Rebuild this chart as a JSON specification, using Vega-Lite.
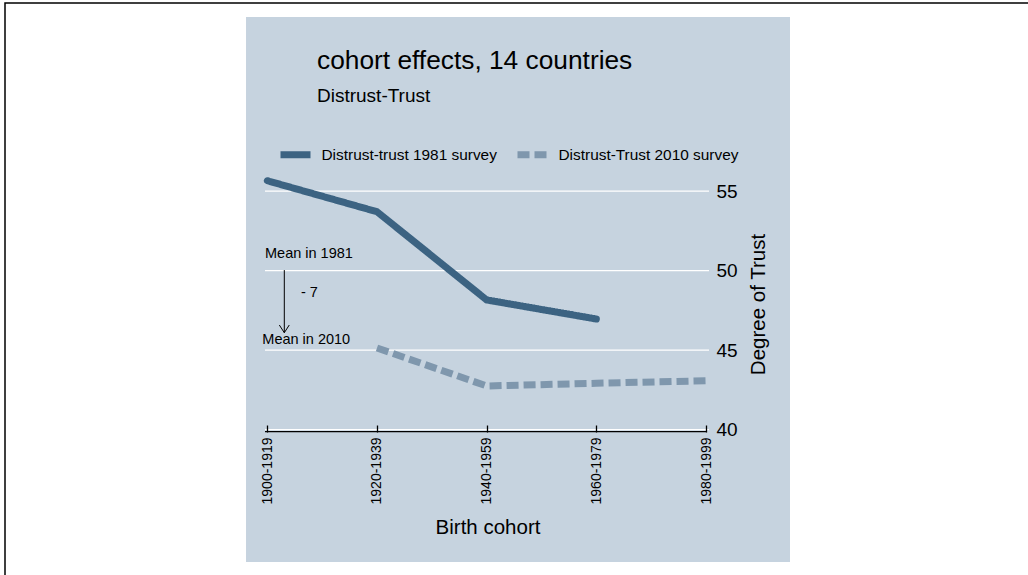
{
  "$schema": "https://vega.github.io/schema/vega-lite/v6.json",
  "width": 1043,
  "height": 592,
  "autosize": {"type": "none"},
  "padding": {"left": 5, "top": 3, "right": -20, "bottom": -20},
  "background": "white",
  "config": {
    "font": "Liberation Sans",
    "view": {"stroke": "black", "strokeWidth": 1.5, "fill": "white"}
  },
  "title": {
    "text": "cohort effects, 14 countries",
    "subtitle": "Distrust-Trust",
    "anchor": "start",
    "frame": "group",
    "dx": 312,
    "offset": -103,
    "fontSize": 26.3,
    "fontWeight": "normal",
    "color": "black",
    "subtitleFontSize": 19,
    "subtitleColor": "black",
    "subtitlePadding": 12.5,
    "zindex": 1
  },
  "datasets": {
    "trust": [
      {"cohort": "1900-1919", "start": 1900, "survey": "Distrust-trust 1981 survey", "trust": 55.66},
      {"cohort": "1920-1939", "start": 1920, "survey": "Distrust-trust 1981 survey", "trust": 53.71},
      {"cohort": "1940-1959", "start": 1940, "survey": "Distrust-trust 1981 survey", "trust": 48.16},
      {"cohort": "1960-1979", "start": 1960, "survey": "Distrust-trust 1981 survey", "trust": 46.96},
      {"cohort": "1920-1939", "start": 1920, "survey": "Distrust-Trust 2010 survey", "trust": 45.14},
      {"cohort": "1940-1959", "start": 1940, "survey": "Distrust-Trust 2010 survey", "trust": 42.75},
      {"cohort": "1960-1979", "start": 1960, "survey": "Distrust-Trust 2010 survey", "trust": 42.92},
      {"cohort": "1980-1999", "start": 1980, "survey": "Distrust-Trust 2010 survey", "trust": 43.08}
    ],
    "grid": [{"g": 40}, {"g": 45}, {"g": 50}, {"g": 55}],
    "notes": [
      {"label": "Mean in 1981", "year": 1899.58, "value": 50.78},
      {"label": "- 7", "year": 1906.14, "value": 48.35},
      {"label": "Mean in 2010", "year": 1899.09, "value": 45.37}
    ]
  },
  "layer": [
    {
      "data": {"values": [{}]},
      "mark": {"type": "rect", "fill": "#c6d3df"},
      "encoding": {
        "x": {"datum": 1896.12, "type": "quantitative", "scale": {"domain": [1900, 1980], "range": [262.3, 701], "nice": false, "zero": false}},
        "x2": {"datum": 1995.32},
        "y": {"datum": 31.68, "type": "quantitative", "scale": {"domain": [40, 55], "range": [426.7, 188.2], "nice": false, "zero": false}},
        "y2": {"datum": 65.96}
      }
    },
    {
      "data": {"name": "grid"},
      "mark": {"type": "rule", "stroke": "white", "strokeWidth": 1.3},
      "encoding": {
        "x": {"datum": 1899.58, "type": "quantitative", "scale": {"domain": [1900, 1980], "range": [262.3, 701], "nice": false, "zero": false}},
        "x2": {"datum": 1980.55},
        "y": {"field": "g", "type": "quantitative", "scale": {"domain": [40, 55], "range": [426.7, 188.2], "nice": false, "zero": false}}
      }
    },
    {
      "data": {"values": [{}]},
      "mark": {"type": "rule", "stroke": "black", "strokeWidth": 1.3, "yOffset": 2},
      "encoding": {
        "x": {"datum": 1899.58, "type": "quantitative", "scale": {"domain": [1900, 1980], "range": [262.3, 701], "nice": false, "zero": false}},
        "x2": {"datum": 1980.1},
        "y": {"datum": 40, "type": "quantitative", "scale": {"domain": [40, 55], "range": [426.7, 188.2], "nice": false, "zero": false}}
      }
    },
    {
      "data": {"name": "trust"},
      "transform": [{"filter": "datum.survey === 'Distrust-trust 1981 survey'"}],
      "mark": {"type": "line", "strokeWidth": 7, "strokeCap": "round", "strokeJoin": "round"},
      "encoding": {
        "x": {
          "field": "start", "type": "quantitative",
          "scale": {"domain": [1900, 1980], "range": [262.3, 701], "nice": false, "zero": false},
          "axis": {
            "values": [1900, 1920, 1940, 1960, 1980],
            "labelExpr": "datum.value + '-' + (datum.value + 19)",
            "labelAngle": 270,
            "labelFontSize": 14,
            "labelColor": "black",
            "labelPadding": 12,
            "labelFlush": false,
            "labelOverlap": false,
            "labelBound": false,
            "ticks": true,
            "tickSize": -7,
            "tickColor": "black",
            "tickWidth": 1.3,
            "domain": false,
            "grid": false,
            "offset": -163,
            "title": "Birth cohort",
            "titleFontSize": 20.5,
            "titleFontWeight": "normal",
            "titleColor": "black",
            "titleX": 482.5,
            "titleY": 101,
            "titleAlign": "center",
            "titleBaseline": "alphabetic",
            "zindex": 1
          }
        },
        "y": {
          "field": "trust", "type": "quantitative",
          "scale": {"domain": [40, 55], "range": [426.7, 188.2], "nice": false, "zero": false},
          "axis": {
            "orient": "right",
            "values": [40, 45, 50, 55],
            "offset": -342,
            "labelFontSize": 19,
            "labelColor": "black",
            "labelPadding": 10,
            "labelFlush": false,
            "labelOverlap": false,
            "ticks": false,
            "domain": false,
            "grid": false,
            "title": "Degree of Trust",
            "titleFontSize": 20.5,
            "titleFontWeight": "normal",
            "titleColor": "black",
            "titleAngle": 270,
            "titleX": 52,
            "titleY": 301,
            "titleAlign": "center",
            "titleBaseline": "middle",
            "zindex": 1
          }
        },
        "color": {
          "field": "survey", "type": "nominal",
          "scale": {"domain": ["Distrust-trust 1981 survey", "Distrust-Trust 2010 survey"], "range": ["#3c6382", "#7f97ad"]},
          "legend": {
            "title": null, "orient": "none", "legendX": 272, "legendY": 133, "direction": "horizontal",
            "symbolType": "stroke", "symbolSize": 900, "symbolStrokeWidth": 7,
            "labelFontSize": 15.4, "labelColor": "black", "labelOffset": 7.5, "columnPadding": 6,
            "padding": 0, "labelLimit": 0, "zindex": 1
          }
        },
        "strokeDash": {
          "field": "survey", "type": "nominal",
          "scale": {"domain": ["Distrust-trust 1981 survey", "Distrust-Trust 2010 survey"], "range": [[1, 0], [12, 5]]},
          "legend": {
            "title": null, "orient": "none", "legendX": 272, "legendY": 133, "direction": "horizontal",
            "symbolType": "stroke", "symbolSize": 900, "symbolStrokeWidth": 7,
            "labelFontSize": 15.4, "labelColor": "black", "labelOffset": 7.5, "columnPadding": 6,
            "padding": 0, "labelLimit": 0, "zindex": 1
          }
        }
      }
    },
    {
      "data": {"name": "trust"},
      "transform": [{"filter": "datum.survey === 'Distrust-Trust 2010 survey'"}],
      "mark": {"type": "line", "strokeWidth": 7, "strokeCap": "butt"},
      "encoding": {
        "x": {"field": "start", "type": "quantitative", "scale": {"domain": [1900, 1980], "range": [262.3, 701], "nice": false, "zero": false}},
        "y": {"field": "trust", "type": "quantitative", "scale": {"domain": [40, 55], "range": [426.7, 188.2], "nice": false, "zero": false}},
        "color": {"field": "survey", "type": "nominal", "scale": {"domain": ["Distrust-trust 1981 survey", "Distrust-Trust 2010 survey"], "range": ["#3c6382", "#7f97ad"]}},
        "strokeDash": {"field": "survey", "type": "nominal", "scale": {"domain": ["Distrust-trust 1981 survey", "Distrust-Trust 2010 survey"], "range": [[1, 0], [12, 5]]}}
      }
    },
    {
      "data": {"name": "notes"},
      "mark": {"type": "text", "align": "left", "baseline": "alphabetic", "fontSize": 14.5, "color": "black"},
      "encoding": {
        "x": {"field": "year", "type": "quantitative", "scale": {"domain": [1900, 1980], "range": [262.3, 701], "nice": false, "zero": false}},
        "y": {"field": "value", "type": "quantitative", "scale": {"domain": [40, 55], "range": [426.7, 188.2], "nice": false, "zero": false}},
        "text": {"field": "label"}
      }
    },
    {
      "data": {"values": [{}]},
      "mark": {"type": "rule", "stroke": "black", "strokeWidth": 1},
      "encoding": {
        "x": {"datum": 1903.1, "type": "quantitative", "scale": {"domain": [1900, 1980], "range": [262.3, 701], "nice": false, "zero": false}},
        "y": {"datum": 50.04, "type": "quantitative", "scale": {"domain": [40, 55], "range": [426.7, 188.2], "nice": false, "zero": false}},
        "y2": {"datum": 46.1}
      }
    },
    {
      "data": {"values": [{}]},
      "mark": {"type": "point", "shape": "M-0.62,-0.96L0,0L0.62,-0.96", "size": 256, "filled": false, "stroke": "black", "strokeWidth": 1, "opacity": 1},
      "encoding": {
        "x": {"datum": 1903.1, "type": "quantitative", "scale": {"domain": [1900, 1980], "range": [262.3, 701], "nice": false, "zero": false}},
        "y": {"datum": 46.1, "type": "quantitative", "scale": {"domain": [40, 55], "range": [426.7, 188.2], "nice": false, "zero": false}}
      }
    }
  ]
}
